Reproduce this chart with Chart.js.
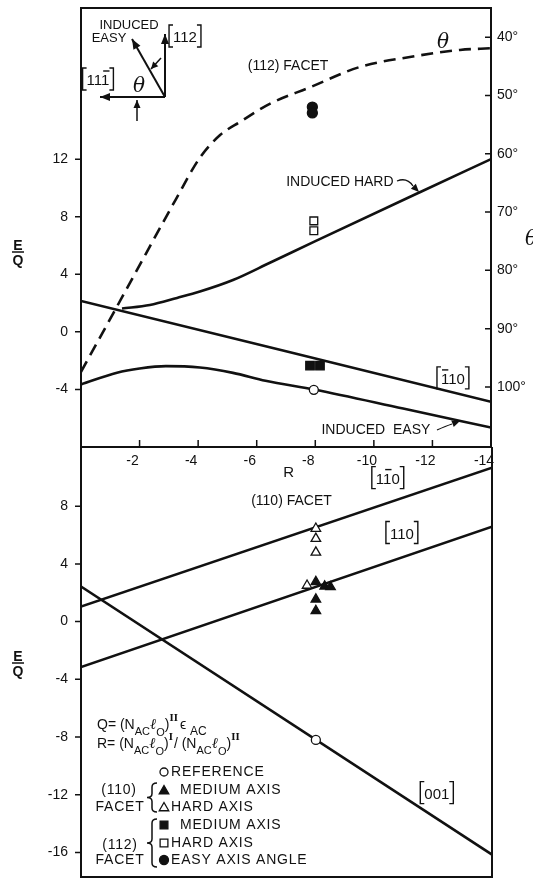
<!DOCTYPE html>
<html>
<head>
<meta charset="utf-8">
<script src="https://cdn.jsdelivr.net/npm/chart.js@4.4.1/dist/chart.umd.min.js"></script>
<style>
  html, body { margin: 0; padding: 0; background: #fff; }
  #wrap { position: relative; width: 533px; height: 878px; overflow: hidden; }
  #topChart { position: absolute; left: 0; top: 0; z-index: 2; }
  #bottomChart { position: absolute; left: 0; top: 447px; z-index: 1; }
</style>
</head>
<body>
<div id="wrap">
  <canvas id="bottomChart" width="533" height="431"></canvas>
  <canvas id="topChart" width="533" height="490"></canvas>
</div>
<script>
// tick values
const topEqTicks = [-4, 0, 4, 8, 12];
const thetaTicks = [40, 50, 60, 70, 80, 90, 100];
const bottomEqTicks = [-16, -12, -8, -4, 0, 4, 8];

// upper panel, (112) facet
const thetaR = [0, -1.12, -2.21, -3.23, -4.07, -4.75, -5.44, -6.46, -7.82, -9.53, -11.23, -12.94, -14];
const thetaDeg = [97.4, 87.2, 77.2, 67.9, 60.6, 56.8, 54.5, 51.4, 48.6, 45.1, 43.4, 42.2, 41.9];
const hardR = [-1.4, -2.35, -3.28, -4.06, -5.19, -6.45, -7.95, -11.57, -14];
const hardE = [1.62, 1.87, 2.36, 2.8, 3.6, 4.8, 6.25, 9.7, 12.0];
const barOneTenR = [0, -14];
const barOneTenE = [2.15, -4.86];
const easyR = [0, -1.23, -2.0, -2.9, -4.06, -5.19, -6.3, -8, -11, -14];
const easyE = [-3.65, -2.84, -2.55, -2.38, -2.48, -2.85, -3.4, -4.02, -5.33, -6.65];
const med112R = [-7.82, -8.16];
const med112E = [-2.35, -2.35];
const hard112R = [-7.95, -7.95];
const hard112E = [7.71, 7.02];
const easyAngleR = [-7.9, -7.9];
const easyAngleDeg = [52.0, 53.0];
const refTopR = [-7.95];
const refTopE = [-4.03];

// lower panel, (110) facet
const oneBarOneZeroR = [0, -14];
const oneBarOneZeroE = [1.04, 10.67];
const oneOneZeroR = [0, -14];
const oneOneZeroE = [-3.15, 6.58];
const zeroZeroOneR = [0, -14];
const zeroZeroOneE = [2.43, -16.15];
const hard110R = [-8, -8, -8, -7.7];
const hard110E = [6.45, 5.75, 4.8, 2.5];
const med110R = [-8, -8.3, -8.5, -8, -8];
const med110E = [2.75, 2.45, 2.4, 1.55, 0.75];
const refBotR = [-8];
const refBotE = [-8.2];

const INK = '#111';
const FONT = '"Liberation Sans", Arial, sans-serif';
const SERIF_IT = 'italic 20px "DejaVu Serif", serif';
Chart.defaults.font.family = FONT;
Chart.defaults.color = INK;

function pts(xs, ys) {
    return xs.map((x, i) => ({ x: x, y: ys[i] }));
}

function fmtTick(v) {
    return v < 0 ? '-' + Math.abs(v) : String(v);
}

function noPad(s) {
    s.paddingTop = 0; s.paddingBottom = 0; s.paddingLeft = 0; s.paddingRight = 0;
}

function lineSet(data, extra) {
    return Object.assign({
        data: data, showLine: true, pointRadius: 0, borderColor: INK,
        borderWidth: 2.6, cubicInterpolationMode: 'monotone', order: 1
    }, extra || {});
}

function markSet(data, style, r, filled, extra) {
    return Object.assign({
        data: data, pointStyle: style, pointRadius: r, borderColor: INK,
        backgroundColor: filled ? INK : '#fff', borderWidth: 1.3, order: 0
    }, extra || {});
}

function arrowHead(ctx, x, y, ang, len, half) {
    ctx.save();
    ctx.translate(x, y);
    ctx.rotate(ang);
    ctx.beginPath();
    ctx.moveTo(0, 0);
    ctx.lineTo(-len, -half);
    ctx.lineTo(-len, half);
    ctx.closePath();
    ctx.fill();
    ctx.restore();
}

function arrow(ctx, x0, y0, x1, y1, len, half) {
    ctx.beginPath();
    ctx.moveTo(x0, y0);
    ctx.lineTo(x1, y1);
    ctx.stroke();
    arrowHead(ctx, x1, y1, Math.atan2(y1 - y0, x1 - x0), len, half);
}

function text(ctx, s, x, y, size, align) {
    ctx.font = (size || 14) + 'px ' + FONT;
    ctx.textAlign = align || 'center';
    ctx.textBaseline = 'middle';
    ctx.fillText(s, x, y);
}

// crystal direction like [110], with an optional bar over one digit
function miller(ctx, digits, cx, cy, barAt) {
    ctx.font = '15px ' + FONT;
    ctx.textAlign = 'left';
    ctx.textBaseline = 'alphabetic';
    const w = ctx.measureText(digits).width;
    const h = 22, pad = 4;
    const l = cx - w / 2 - pad, r = cx + w / 2 + pad;
    ctx.lineWidth = 1.4;
    ctx.beginPath();
    ctx.moveTo(l + 4, cy - h / 2); ctx.lineTo(l, cy - h / 2); ctx.lineTo(l, cy + h / 2); ctx.lineTo(l + 4, cy + h / 2);
    ctx.moveTo(r - 4, cy - h / 2); ctx.lineTo(r, cy - h / 2); ctx.lineTo(r, cy + h / 2); ctx.lineTo(r - 4, cy + h / 2);
    ctx.stroke();
    const base = cy + 6;
    ctx.fillText(digits, cx - w / 2, base);
    if (barAt >= 0) {
        const x0 = cx - w / 2 + ctx.measureText(digits.slice(0, barAt)).width;
        const cw = ctx.measureText(digits[barAt]).width;
        ctx.beginPath();
        ctx.moveTo(x0 + 1, base - 14);
        ctx.lineTo(x0 + cw - 1, base - 14);
        ctx.stroke();
    }
}

function fraction(ctx, x, y) {
    ctx.font = 'bold 14px ' + FONT;
    ctx.textAlign = 'center';
    ctx.textBaseline = 'alphabetic';
    ctx.fillText('E', x, y - 2);
    ctx.textBaseline = 'top';
    ctx.fillText('Q', x, y + 2);
    ctx.lineWidth = 1.5;
    ctx.beginPath();
    ctx.moveTo(x - 6, y);
    ctx.lineTo(x + 6, y);
    ctx.stroke();
}

function rich(ctx, x, y, parts) {
    ctx.textAlign = 'left';
    ctx.textBaseline = 'alphabetic';
    parts.forEach(p => {
        ctx.font = p[3] || (p[2] + 'px ' + FONT);
        ctx.fillText(p[0], x, y + p[1]);
        x += ctx.measureText(p[0]).width + (p[4] || 0);
    });
}

function brace(ctx, x, y0, y1) {
    const ym = (y0 + y1) / 2, w = 5;
    ctx.lineWidth = 1.5;
    ctx.beginPath();
    ctx.moveTo(x + w, y0);
    ctx.quadraticCurveTo(x, y0, x, y0 + 4);
    ctx.lineTo(x, ym - 4);
    ctx.quadraticCurveTo(x, ym, x - w, ym);
    ctx.quadraticCurveTo(x, ym, x, ym + 4);
    ctx.lineTo(x, y1 - 4);
    ctx.quadraticCurveTo(x, y1, x + w, y1);
    ctx.stroke();
}

function marker(ctx, style, x, y, r, filled) {
    ctx.beginPath();
    if (style === 'circle') {
        ctx.arc(x, y, r, 0, Math.PI * 2);
    } else if (style === 'rect') {
        const s = r * Math.SQRT1_2;
        ctx.rect(x - s, y - s, 2 * s, 2 * s);
    } else {
        ctx.moveTo(x, y - r);
        ctx.lineTo(x + r * 0.866, y + r * 0.5);
        ctx.lineTo(x - r * 0.866, y + r * 0.5);
        ctx.closePath();
    }
    ctx.fillStyle = filled ? INK : '#fff';
    ctx.fill();
    ctx.lineWidth = 1.3;
    ctx.stroke();
    ctx.fillStyle = INK;
}

const topExtras = {
    id: 'topExtras',
    afterDraw(chart) {
        const ctx = chart.ctx, a = chart.chartArea;
        const sx = chart.scales.x, sy = chart.scales.y, st = chart.scales.yTheta;
        const X = v => sx.getPixelForValue(v), Y = v => sy.getPixelForValue(v);
        ctx.save();
        ctx.fillStyle = INK;
        ctx.strokeStyle = INK;

        ctx.lineWidth = 2;
        ctx.strokeRect(a.left, a.top, a.right - a.left, a.bottom - a.top);

        ctx.lineWidth = 1.5;
        ctx.beginPath();
        sy.ticks.forEach(t => { const y = Y(t.value); ctx.moveTo(a.left - 6, y); ctx.lineTo(a.left, y); });
        st.ticks.forEach(t => { const y = st.getPixelForValue(t.value); ctx.moveTo(a.right - 6, y); ctx.lineTo(a.right, y); });
        sx.ticks.forEach(t => {
            if (t.value > -14 && t.value < 0) { const x = X(t.value); ctx.moveTo(x, a.bottom); ctx.lineTo(x, a.bottom - 7); }
        });
        ctx.stroke();

        // axis titles
        fraction(ctx, 18, 252);
        ctx.font = SERIF_IT;
        ctx.textAlign = 'left';
        ctx.textBaseline = 'middle';
        ctx.fillText('θ', 525, 240);

        // curve labels
        text(ctx, '(112) FACET', X(-7.07), Y(18.48));
        text(ctx, 'INDUCED HARD', X(-8.84), Y(10.42));
        text(ctx, 'INDUCED  EASY', X(-10.07), Y(-6.82));
        miller(ctx, '110', X(-12.7), Y(-3.2), 0);
        ctx.font = SERIF_IT;
        ctx.textAlign = 'center';
        ctx.fillText('θ', X(-12.36), Y(19.7));

        // leaders
        ctx.lineWidth = 1.3;
        ctx.beginPath();
        ctx.moveTo(397, 181);
        ctx.quadraticCurveTo(407, 177, 413, 186);
        ctx.stroke();
        arrowHead(ctx, 419, 192, Math.atan2(6, 6), 8, 3.5);
        ctx.beginPath();
        ctx.moveTo(437, 430);
        ctx.quadraticCurveTo(446, 426, 452, 424);
        ctx.stroke();
        arrowHead(ctx, 460, 421, Math.atan2(-3, 8), 8, 3.5);

        // orientation sketch
        ctx.lineWidth = 2;
        arrow(ctx, 165, 97, 165, 34, 10, 4);
        arrow(ctx, 165, 97, 100, 97, 10, 4);
        arrow(ctx, 165, 97, 132, 39, 10, 4);
        ctx.lineWidth = 1.5;
        arrow(ctx, 161, 58, 151, 69, 7, 3.5);
        arrow(ctx, 137, 121, 137, 100, 8, 3.5);
        text(ctx, 'INDUCED', 129, 25, 13);
        text(ctx, 'EASY', 109, 38, 13);
        miller(ctx, '112', 185, 36, -1);
        miller(ctx, '111', 98, 79, 2);
        ctx.font = SERIF_IT;
        ctx.textAlign = 'center';
        ctx.textBaseline = 'middle';
        ctx.fillText('θ', 139, 87);
        ctx.restore();
    }
};

const bottomExtras = {
    id: 'bottomExtras',
    afterDraw(chart) {
        const ctx = chart.ctx, a = chart.chartArea;
        const sx = chart.scales.x, sy = chart.scales.y;
        const X = v => sx.getPixelForValue(v), Y = v => sy.getPixelForValue(v);
        ctx.save();
        ctx.fillStyle = INK;
        ctx.strokeStyle = INK;

        ctx.lineWidth = 2;
        ctx.strokeRect(a.left, a.top, a.right - a.left, a.bottom - a.top);
        ctx.lineWidth = 1.5;
        ctx.beginPath();
        sy.ticks.forEach(t => { const y = Y(t.value); ctx.moveTo(a.left - 6, y); ctx.lineTo(a.left, y); });
        ctx.stroke();

        text(ctx, 'R', X(-7.07), Y(10.33), 15);
        miller(ctx, '110', X(-10.45), Y(9.98), 1);
        text(ctx, '(110) FACET', X(-7.17), Y(8.32));
        miller(ctx, '110', X(-10.93), Y(6.17), -1);
        miller(ctx, '001', X(-12.12), Y(-11.85), -1);

        // the rest is placed in page coordinates
        ctx.translate(0, -447);
        fraction(ctx, 18, 663);

        const ell = 'italic 15px "DejaVu Serif", serif';
        const rom = 'bold 9px "DejaVu Serif", serif';
        rich(ctx, 97, 729, [
            ['Q= (N', 0, 14], ['AC', 6, 11], ['ℓ', 0, 15, ell], ['O', 7, 11], [')', 0, 14],
            ['II', -8, 9, rom, 2], ['ϵ', 0, 14, null, 4], ['AC', 6, 12]
        ]);
        rich(ctx, 97, 748, [
            ['R= (N', 0, 14], ['AC', 6, 11], ['ℓ', 0, 15, ell], ['O', 7, 11], [')', 0, 14],
            ['I', -8, 9, rom, 1], ['/ (N', 0, 14], ['AC', 6, 11], ['ℓ', 0, 15, ell], ['O', 7, 11],
            [')', 0, 14], ['II', -8, 9, rom]
        ]);

        ctx.strokeStyle = INK;
        marker(ctx, 'circle', 164, 772, 4, false);
        marker(ctx, 'triangle', 164, 791, 5.5, true);
        marker(ctx, 'triangle', 164, 808, 5.5, false);
        marker(ctx, 'rect', 164, 825, 5.5, true);
        marker(ctx, 'rect', 164, 843, 5.5, false);
        marker(ctx, 'circle', 164, 860, 4.5, true);
        ctx.letterSpacing = '0.8px';
        text(ctx, 'REFERENCE', 171, 772, 14, 'left');
        text(ctx, 'MEDIUM AXIS', 180, 790, 14, 'left');
        text(ctx, 'HARD AXIS', 171, 807, 14, 'left');
        text(ctx, 'MEDIUM AXIS', 180, 825, 14, 'left');
        text(ctx, 'HARD AXIS', 171, 843, 14, 'left');
        text(ctx, 'EASY AXIS ANGLE', 171, 860, 14, 'left');
        text(ctx, '(110)', 119, 790, 14);
        text(ctx, 'FACET', 120, 807, 14);
        text(ctx, '(112)', 120, 845, 14);
        text(ctx, 'FACET', 120, 860, 14);
        ctx.letterSpacing = '0px';
        brace(ctx, 152, 783, 812);
        brace(ctx, 152, 819, 867);
        ctx.restore();
    }
};

const tickFont = { family: FONT, size: 14 };

new Chart(document.getElementById('topChart'), {
    type: 'scatter',
    data: {
        datasets: [
            markSet(pts(easyAngleR, easyAngleDeg), 'circle', 5, true, { yAxisID: 'yTheta' }),
            markSet(pts(hard112R, hard112E), 'rect', 5.5, false),
            markSet(pts(med112R, med112E), 'rect', 6, true),
            markSet(pts(refTopR, refTopE), 'circle', 4.5, false),
            lineSet(pts(thetaR, thetaDeg), { yAxisID: 'yTheta', borderDash: [12, 7] }),
            lineSet(pts(hardR, hardE)),
            lineSet(pts(barOneTenR, barOneTenE)),
            lineSet(pts(easyR, easyE))
        ]
    },
    options: {
        responsive: false,
        animation: false,
        devicePixelRatio: 1,
        events: [],
        layout: { autoPadding: false, padding: { top: 8, left: 0, right: 0, bottom: 0 } },
        plugins: { legend: { display: false }, tooltip: { enabled: false } },
        scales: {
            x: {
                type: 'linear', min: -14, max: 0, reverse: true, position: 'bottom',
                afterFit: s => { s.height = 43; noPad(s); },
                grid: { display: false, drawTicks: false },
                border: { display: false },
                ticks: { stepSize: 2, padding: 6, labelOffset: -7, font: tickFont, color: INK,
                         maxRotation: 0, autoSkip: false,
                         callback: v => v === 0 ? '' : fmtTick(v) }
            },
            y: {
                type: 'linear', min: -8, max: 22.5, position: 'left',
                afterFit: s => { s.width = 81; noPad(s); },
                afterBuildTicks: s => { s.ticks = topEqTicks.map(v => ({ value: v })); },
                grid: { display: false, drawTicks: false },
                border: { display: false },
                ticks: { padding: 13, font: tickFont, color: INK, callback: v => fmtTick(v) }
            },
            yTheta: {
                type: 'linear', min: 35, max: 110.3, reverse: true, position: 'right',
                afterFit: s => { s.width = 42; noPad(s); },
                afterBuildTicks: s => { s.ticks = thetaTicks.map(v => ({ value: v })); },
                grid: { display: false, drawTicks: false },
                border: { display: false },
                ticks: { padding: 6, font: tickFont, color: INK, callback: v => v + '°' }
            }
        }
    },
    plugins: [topExtras]
});

new Chart(document.getElementById('bottomChart'), {
    type: 'scatter',
    data: {
        datasets: [
            markSet(pts(med110R, med110E), 'triangle', 5.5, true),
            markSet(pts(hard110R, hard110E), 'triangle', 5.5, false),
            markSet(pts(refBotR, refBotE), 'circle', 4.5, false),
            lineSet(pts(oneBarOneZeroR, oneBarOneZeroE)),
            lineSet(pts(oneOneZeroR, oneOneZeroE)),
            lineSet(pts(zeroZeroOneR, zeroZeroOneE))
        ]
    },
    options: {
        responsive: false,
        animation: false,
        devicePixelRatio: 1,
        events: [],
        layout: { autoPadding: false, padding: { top: 0, left: 0, right: 41, bottom: 1 } },
        plugins: { legend: { display: false }, tooltip: { enabled: false } },
        scales: {
            x: { type: 'linear', min: -14, max: 0, reverse: true, display: false },
            y: {
                type: 'linear', min: -17.7, max: 12.1, position: 'left',
                afterFit: s => { s.width = 81; noPad(s); },
                afterBuildTicks: s => { s.ticks = bottomEqTicks.map(v => ({ value: v })); },
                grid: { display: false, drawTicks: false },
                border: { display: false },
                ticks: { padding: 13, font: tickFont, color: INK, callback: v => fmtTick(v) }
            }
        }
    },
    plugins: [bottomExtras]
});
</script>
</body>
</html>
